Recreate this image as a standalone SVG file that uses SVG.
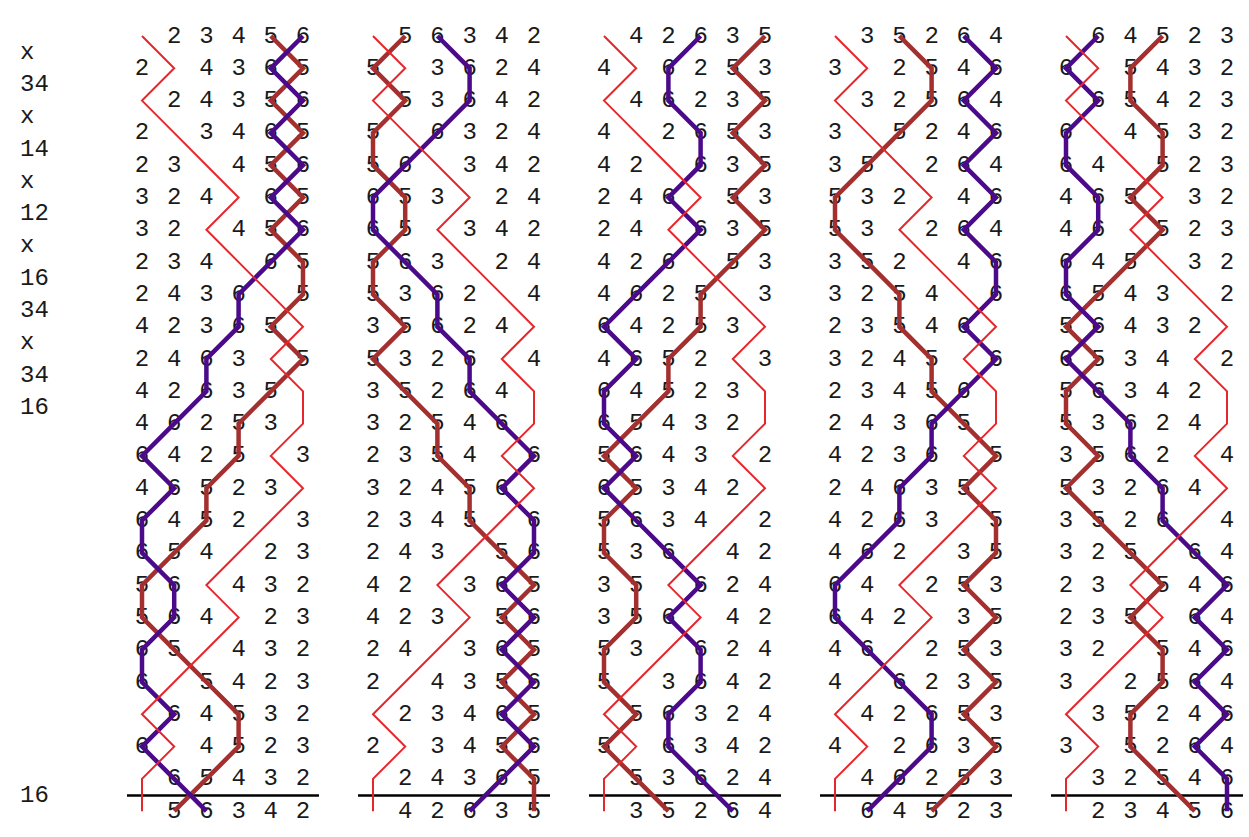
<svg xmlns="http://www.w3.org/2000/svg" width="1249" height="837" viewBox="0 0 1249 837">
<style>
.row{font-family:"Liberation Mono","Courier New",monospace;font-size:24px;fill:#1a1a1a;text-anchor:middle}
.pn{font-family:"Liberation Mono","Courier New",monospace;font-size:24px;fill:#1a1a1a}
polyline{fill:none;vector-effect:non-scaling-stroke;stroke-linejoin:miter}
.red{stroke:#e5262b;stroke-width:2}
.b5{stroke:#a3302f;stroke-width:4.5}
.b6{stroke:#4b0a8a;stroke-width:4.5}
.rule{stroke:#000;stroke-width:2.5}
</style>
<defs>
<polyline id="P1" points="0,0 1,1 0,2 1,3 2,4 3,5 2,6 3,7 4,8 5,9 4,10 5,11 5,12 4,13 5,14 4,15 3,16 2,17 3,18 2,19 1,20 0,21 1,22 0,23 0,24"/>
<polyline id="P2" points="1,0 0,1 1,2 0,3 0,4 1,5 1,6 0,7 0,8 1,9 0,10 1,11 2,12 2,13 3,14 3,15 4,16 5,17 4,18 5,19 4,20 5,21 4,22 5,23 5,24"/>
<polyline id="P3" points="2,0 3,1 3,2 2,3 1,4 0,5 0,6 1,7 2,8 2,9 3,10 3,11 4,12 5,13 4,14 5,15 5,16 4,17 5,18 4,19 5,20 4,21 5,22 4,23 3,24"/>
<polyline id="P4" points="3,0 2,1 2,2 3,3 3,4 2,5 3,6 2,7 1,8 0,9 1,10 0,11 0,12 1,13 0,14 1,15 2,16 3,17 2,18 3,19 3,20 2,21 2,22 3,23 4,24"/>
<polyline id="P5" points="4,0 5,1 4,2 5,3 4,4 5,5 4,6 5,7 5,8 4,9 5,10 4,11 3,12 3,13 2,14 2,15 1,16 0,17 0,18 1,19 2,20 3,21 3,22 2,23 1,24"/>
<polyline id="P6" points="5,0 4,1 5,2 4,3 5,4 4,5 5,6 4,7 3,8 3,9 2,10 2,11 1,12 0,13 1,14 0,15 0,16 1,17 1,18 0,19 0,20 1,21 0,22 1,23 2,24"/>
</defs>

<g id="notation" class="pn">
<text x="20" y="58.6">x</text>
<text x="20" y="90.9">34</text>
<text x="20" y="123.2">x</text>
<text x="20" y="155.5">14</text>
<text x="20" y="187.8">x</text>
<text x="20" y="220.1">12</text>
<text x="20" y="252.4">x</text>
<text x="20" y="284.7">16</text>
<text x="20" y="317">34</text>
<text x="20" y="349.3">x</text>
<text x="20" y="381.6">34</text>
<text x="20" y="413.9">16</text>
<text x="20" y="801.5">16</text>
</g>

<g id="lead1">
<g class="row">
<text x="174.2 206.4 238.6 270.8 303" y="42.5">23456</text>
<text x="142 206.4 238.6 270.8 303" y="74.8">24365</text>
<text x="174.2 206.4 238.6 270.8 303" y="107.1">24356</text>
<text x="142 206.4 238.6 270.8 303" y="139.4">23465</text>
<text x="142 174.2 238.6 270.8 303" y="171.7">23456</text>
<text x="142 174.2 206.4 270.8 303" y="204">32465</text>
<text x="142 174.2 238.6 270.8 303" y="236.3">32456</text>
<text x="142 174.2 206.4 270.8 303" y="268.6">23465</text>
<text x="142 174.2 206.4 238.6 303" y="300.9">24365</text>
<text x="142 174.2 206.4 238.6 270.8" y="333.2">42365</text>
<text x="142 174.2 206.4 238.6 303" y="365.5">24635</text>
<text x="142 174.2 206.4 238.6 270.8" y="397.8">42635</text>
<text x="142 174.2 206.4 238.6 270.8" y="430.1">46253</text>
<text x="142 174.2 206.4 238.6 303" y="462.4">64253</text>
<text x="142 174.2 206.4 238.6 270.8" y="494.7">46523</text>
<text x="142 174.2 206.4 238.6 303" y="527">64523</text>
<text x="142 174.2 206.4 270.8 303" y="559.3">65423</text>
<text x="142 174.2 238.6 270.8 303" y="591.6">56432</text>
<text x="142 174.2 206.4 270.8 303" y="623.9">56423</text>
<text x="142 174.2 238.6 270.8 303" y="656.2">65432</text>
<text x="142 206.4 238.6 270.8 303" y="688.5">65423</text>
<text x="174.2 206.4 238.6 270.8 303" y="720.8">64532</text>
<text x="142 206.4 238.6 270.8 303" y="753.1">64523</text>
<text x="174.2 206.4 238.6 270.8 303" y="785.4">65432</text>
<text x="174.2 206.4 238.6 270.8 303" y="817.7">56342</text>
</g>
<line class="rule" x1="127" y1="795.5" x2="319" y2="795.5"/>
<g transform="translate(142,36) scale(32.2,32.3)">
<use href="#P5" class="b5"/>
<use href="#P6" class="b6"/>
<use href="#P1" class="red"/>
</g>
</g>

<g id="lead2" transform="translate(231,0)">
<g class="row">
<text x="174.2 206.4 238.6 270.8 303" y="42.5">56342</text>
<text x="142 206.4 238.6 270.8 303" y="74.8">53624</text>
<text x="174.2 206.4 238.6 270.8 303" y="107.1">53642</text>
<text x="142 206.4 238.6 270.8 303" y="139.4">56324</text>
<text x="142 174.2 238.6 270.8 303" y="171.7">56342</text>
<text x="142 174.2 206.4 270.8 303" y="204">65324</text>
<text x="142 174.2 238.6 270.8 303" y="236.3">65342</text>
<text x="142 174.2 206.4 270.8 303" y="268.6">56324</text>
<text x="142 174.2 206.4 238.6 303" y="300.9">53624</text>
<text x="142 174.2 206.4 238.6 270.8" y="333.2">35624</text>
<text x="142 174.2 206.4 238.6 303" y="365.5">53264</text>
<text x="142 174.2 206.4 238.6 270.8" y="397.8">35264</text>
<text x="142 174.2 206.4 238.6 270.8" y="430.1">32546</text>
<text x="142 174.2 206.4 238.6 303" y="462.4">23546</text>
<text x="142 174.2 206.4 238.6 270.8" y="494.7">32456</text>
<text x="142 174.2 206.4 238.6 303" y="527">23456</text>
<text x="142 174.2 206.4 270.8 303" y="559.3">24356</text>
<text x="142 174.2 238.6 270.8 303" y="591.6">42365</text>
<text x="142 174.2 206.4 270.8 303" y="623.9">42356</text>
<text x="142 174.2 238.6 270.8 303" y="656.2">24365</text>
<text x="142 206.4 238.6 270.8 303" y="688.5">24356</text>
<text x="174.2 206.4 238.6 270.8 303" y="720.8">23465</text>
<text x="142 206.4 238.6 270.8 303" y="753.1">23456</text>
<text x="174.2 206.4 238.6 270.8 303" y="785.4">24365</text>
<text x="174.2 206.4 238.6 270.8 303" y="817.7">42635</text>
</g>
<line class="rule" x1="127" y1="795.5" x2="319" y2="795.5"/>
<g transform="translate(142,36) scale(32.2,32.3)">
<use href="#P2" class="b5"/>
<use href="#P3" class="b6"/>
<use href="#P1" class="red"/>
</g>
</g>

<g id="lead3" transform="translate(462,0)">
<g class="row">
<text x="174.2 206.4 238.6 270.8 303" y="42.5">42635</text>
<text x="142 206.4 238.6 270.8 303" y="74.8">46253</text>
<text x="174.2 206.4 238.6 270.8 303" y="107.1">46235</text>
<text x="142 206.4 238.6 270.8 303" y="139.4">42653</text>
<text x="142 174.2 238.6 270.8 303" y="171.7">42635</text>
<text x="142 174.2 206.4 270.8 303" y="204">24653</text>
<text x="142 174.2 238.6 270.8 303" y="236.3">24635</text>
<text x="142 174.2 206.4 270.8 303" y="268.6">42653</text>
<text x="142 174.2 206.4 238.6 303" y="300.9">46253</text>
<text x="142 174.2 206.4 238.6 270.8" y="333.2">64253</text>
<text x="142 174.2 206.4 238.6 303" y="365.5">46523</text>
<text x="142 174.2 206.4 238.6 270.8" y="397.8">64523</text>
<text x="142 174.2 206.4 238.6 270.8" y="430.1">65432</text>
<text x="142 174.2 206.4 238.6 303" y="462.4">56432</text>
<text x="142 174.2 206.4 238.6 270.8" y="494.7">65342</text>
<text x="142 174.2 206.4 238.6 303" y="527">56342</text>
<text x="142 174.2 206.4 270.8 303" y="559.3">53642</text>
<text x="142 174.2 238.6 270.8 303" y="591.6">35624</text>
<text x="142 174.2 206.4 270.8 303" y="623.9">35642</text>
<text x="142 174.2 238.6 270.8 303" y="656.2">53624</text>
<text x="142 206.4 238.6 270.8 303" y="688.5">53642</text>
<text x="174.2 206.4 238.6 270.8 303" y="720.8">56324</text>
<text x="142 206.4 238.6 270.8 303" y="753.1">56342</text>
<text x="174.2 206.4 238.6 270.8 303" y="785.4">53624</text>
<text x="174.2 206.4 238.6 270.8 303" y="817.7">35264</text>
</g>
<line class="rule" x1="127" y1="795.5" x2="319" y2="795.5"/>
<g transform="translate(142,36) scale(32.2,32.3)">
<use href="#P6" class="b5"/>
<use href="#P4" class="b6"/>
<use href="#P1" class="red"/>
</g>
</g>

<g id="lead4" transform="translate(693,0)">
<g class="row">
<text x="174.2 206.4 238.6 270.8 303" y="42.5">35264</text>
<text x="142 206.4 238.6 270.8 303" y="74.8">32546</text>
<text x="174.2 206.4 238.6 270.8 303" y="107.1">32564</text>
<text x="142 206.4 238.6 270.8 303" y="139.4">35246</text>
<text x="142 174.2 238.6 270.8 303" y="171.7">35264</text>
<text x="142 174.2 206.4 270.8 303" y="204">53246</text>
<text x="142 174.2 238.6 270.8 303" y="236.3">53264</text>
<text x="142 174.2 206.4 270.8 303" y="268.6">35246</text>
<text x="142 174.2 206.4 238.6 303" y="300.9">32546</text>
<text x="142 174.2 206.4 238.6 270.8" y="333.2">23546</text>
<text x="142 174.2 206.4 238.6 303" y="365.5">32456</text>
<text x="142 174.2 206.4 238.6 270.8" y="397.8">23456</text>
<text x="142 174.2 206.4 238.6 270.8" y="430.1">24365</text>
<text x="142 174.2 206.4 238.6 303" y="462.4">42365</text>
<text x="142 174.2 206.4 238.6 270.8" y="494.7">24635</text>
<text x="142 174.2 206.4 238.6 303" y="527">42635</text>
<text x="142 174.2 206.4 270.8 303" y="559.3">46235</text>
<text x="142 174.2 238.6 270.8 303" y="591.6">64253</text>
<text x="142 174.2 206.4 270.8 303" y="623.9">64235</text>
<text x="142 174.2 238.6 270.8 303" y="656.2">46253</text>
<text x="142 206.4 238.6 270.8 303" y="688.5">46235</text>
<text x="174.2 206.4 238.6 270.8 303" y="720.8">42653</text>
<text x="142 206.4 238.6 270.8 303" y="753.1">42635</text>
<text x="174.2 206.4 238.6 270.8 303" y="785.4">46253</text>
<text x="174.2 206.4 238.6 270.8 303" y="817.7">64523</text>
</g>
<line class="rule" x1="127" y1="795.5" x2="319" y2="795.5"/>
<g transform="translate(142,36) scale(32.2,32.3)">
<use href="#P3" class="b5"/>
<use href="#P5" class="b6"/>
<use href="#P1" class="red"/>
</g>
</g>

<g id="lead5" transform="translate(924,0)">
<g class="row">
<text x="174.2 206.4 238.6 270.8 303" y="42.5">64523</text>
<text x="142 206.4 238.6 270.8 303" y="74.8">65432</text>
<text x="174.2 206.4 238.6 270.8 303" y="107.1">65423</text>
<text x="142 206.4 238.6 270.8 303" y="139.4">64532</text>
<text x="142 174.2 238.6 270.8 303" y="171.7">64523</text>
<text x="142 174.2 206.4 270.8 303" y="204">46532</text>
<text x="142 174.2 238.6 270.8 303" y="236.3">46523</text>
<text x="142 174.2 206.4 270.8 303" y="268.6">64532</text>
<text x="142 174.2 206.4 238.6 303" y="300.9">65432</text>
<text x="142 174.2 206.4 238.6 270.8" y="333.2">56432</text>
<text x="142 174.2 206.4 238.6 303" y="365.5">65342</text>
<text x="142 174.2 206.4 238.6 270.8" y="397.8">56342</text>
<text x="142 174.2 206.4 238.6 270.8" y="430.1">53624</text>
<text x="142 174.2 206.4 238.6 303" y="462.4">35624</text>
<text x="142 174.2 206.4 238.6 270.8" y="494.7">53264</text>
<text x="142 174.2 206.4 238.6 303" y="527">35264</text>
<text x="142 174.2 206.4 270.8 303" y="559.3">32564</text>
<text x="142 174.2 238.6 270.8 303" y="591.6">23546</text>
<text x="142 174.2 206.4 270.8 303" y="623.9">23564</text>
<text x="142 174.2 238.6 270.8 303" y="656.2">32546</text>
<text x="142 206.4 238.6 270.8 303" y="688.5">32564</text>
<text x="174.2 206.4 238.6 270.8 303" y="720.8">35246</text>
<text x="142 206.4 238.6 270.8 303" y="753.1">35264</text>
<text x="174.2 206.4 238.6 270.8 303" y="785.4">32546</text>
<text x="174.2 206.4 238.6 270.8 303" y="817.7">23456</text>
</g>
<line class="rule" x1="127" y1="795.5" x2="319" y2="795.5"/>
<g transform="translate(142,36) scale(32.2,32.3)">
<use href="#P4" class="b5"/>
<use href="#P2" class="b6"/>
<use href="#P1" class="red"/>
</g>
</g>
</svg>
